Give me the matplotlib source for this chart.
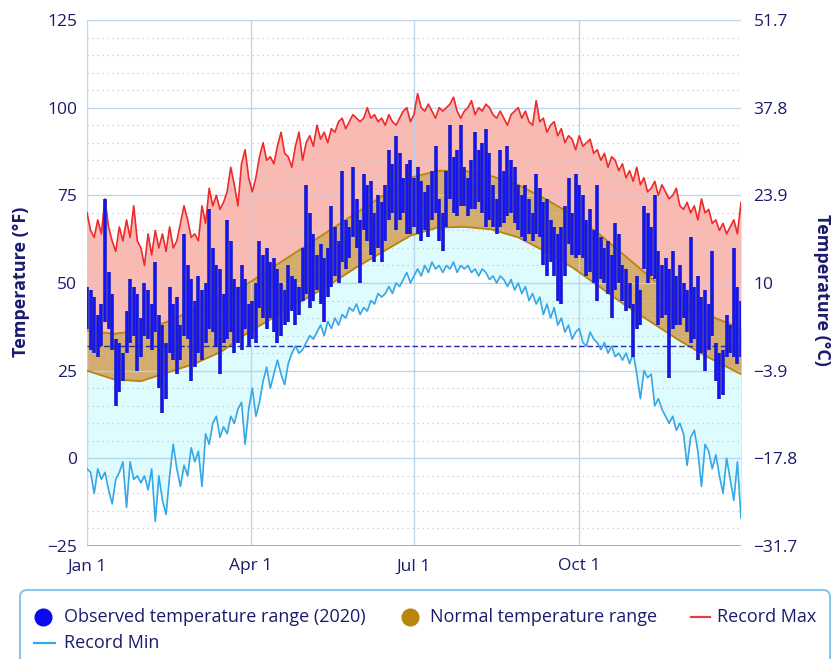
import numpy as np
import matplotlib
matplotlib.use('Agg')
import matplotlib.pyplot as plt
from matplotlib.patches import FancyBboxPatch
from matplotlib.lines import Line2D

plt.rcParams['font.family'] = ['Open Sans', 'DejaVu Sans']

# ---------------- data (°F) ----------------
obs_days = list(range(0, 365, 2))
obs_high = [49, 48, 46, 41, 44, 74, 53, 47, 34, 33,
            30, 42, 51, 49, 47, 40, 50, 48, 44, 56,
            41, 38, 33, 49, 44, 46, 38, 64, 55, 51,
            45, 52, 48, 50, 71, 60, 55, 54, 47, 68,
            62, 51, 49, 55, 51, 44, 45, 50, 62, 58,
            60, 56, 57, 54, 50, 48, 55, 52, 51, 49,
            60, 78, 70, 64, 58, 61, 57, 60, 72, 66,
            62, 82, 68, 66, 83, 74, 68, 81, 78, 79,
            70, 75, 73, 78, 88, 84, 92, 87, 80, 84,
            85, 80, 83, 79, 76, 78, 82, 89, 74, 70,
            82, 95, 86, 88, 95, 83, 80, 85, 93, 88,
            90, 94, 87, 78, 74, 88, 82, 89, 85, 83,
            78, 75, 78, 74, 70, 81, 77, 73, 74, 68,
            66, 64, 66, 72, 80, 70, 81, 78, 75, 68,
            71, 65, 78, 63, 60, 62, 58, 67, 64, 55,
            54, 50, 44, 52, 48, 72, 70, 66, 75, 59,
            55, 57, 54, 59, 52, 55, 50, 48, 63, 49,
            52, 46, 48, 44, 59, 33, 30, 31, 41, 38, 60, 49, 45]
obs_low = [37, 31, 30, 29, 32, 39, 37, 31, 15, 19,
           22, 30, 33, 35, 25, 29, 35, 34, 31, 36,
           20, 13, 17, 30, 28, 24, 28, 35, 34, 22,
           26, 30, 28, 33, 37, 36, 32, 24, 33, 34,
           36, 30, 33, 31, 37, 32, 34, 33, 43, 40,
           37, 40, 36, 33, 35, 38, 39, 42, 38, 41,
           45, 47, 43, 45, 48, 44, 39, 46, 49, 52,
           50, 56, 54, 57, 63, 60, 50, 65, 62, 58,
           56, 60, 56, 62, 68, 70, 65, 68, 70, 64,
           64, 66, 64, 62, 65, 63, 68, 70, 62, 59,
           66, 74, 70, 69, 72, 72, 69, 71, 71, 73,
           70, 66, 68, 66, 64, 66, 67, 69, 70, 67,
           65, 63, 62, 64, 62, 64, 63, 55, 52, 56,
           52, 45, 44, 52, 61, 58, 57, 58, 57, 52,
           53, 50, 45, 51, 50, 47, 40, 48, 50, 45,
           42, 43, 29, 37, 38, 54, 50, 52, 51, 38,
           40, 41, 23, 37, 38, 38, 40, 36, 33, 34,
           28, 30, 25, 31, 35, 22, 17, 18, 29, 30, 29, 27, 29]

rec_days = list(range(0, 365, 2))
rec_max = [70, 65, 63, 68, 64, 74, 66, 62, 59, 66,
           62, 68, 63, 72, 62, 60, 55, 64, 58, 65,
           60, 64, 59, 66, 60, 62, 67, 72, 68, 63,
           64, 62, 72, 67, 77, 72, 75, 71, 73, 76,
           83, 78, 72, 84, 88, 80, 76, 80, 86, 90,
           85, 86, 84, 89, 93, 87, 86, 83, 89, 93,
           85, 90, 92, 89, 95, 91, 93, 90, 94, 93,
           96, 97, 94, 96, 98, 97, 96, 97, 100, 97,
           98, 96, 97, 95, 98, 96, 95, 97, 99, 100,
           96, 98, 104, 100, 99, 101, 99, 97, 100, 99,
           100, 101, 103, 99, 97, 99, 100, 102, 98, 100,
           99, 101, 100, 98, 97, 99, 97, 95, 98, 99,
           100, 97, 99, 96, 95, 102, 96, 97, 93, 95,
           96, 92, 94, 90, 92, 91, 88, 92, 89, 90,
           91, 87, 88, 85, 87, 83, 86, 85, 82, 84,
           80, 82, 79, 83, 78, 80, 76, 77, 79, 75,
           78, 76, 74, 75, 77, 72, 71, 73, 70, 72,
           68, 74, 70, 71, 67, 68, 65, 67, 64, 66, 68, 64, 73]
rec_min = [-3, -4, -10, -3, -6, -4, -9, -13, -6, -4,
           -1, -14, -1, -6, -5, -7, -5, -9, -3, -18,
           -5, -12, -16, -5, 4, -3, -8, -2, -5, 3,
           -1, 2, -8, 7, 4, 10, 12, 6, 9, 7,
           12, 10, 14, 16, 4, 14, 20, 12, 16, 22,
           26, 20, 24, 28, 24, 21, 27, 30, 32, 30,
           31, 33, 35, 34, 36, 38, 35, 39, 37, 40,
           38, 41, 40, 43, 42, 44, 41, 43, 42, 45,
           44, 47, 46, 47, 49, 47, 50, 49, 51, 53,
           50, 52, 54, 52, 55, 53, 56, 54, 55, 53,
           55, 54, 56, 53, 55, 54, 55, 53, 54, 52,
           54, 53, 51, 52, 50, 52, 51, 49, 51, 48,
           50, 47, 49, 45, 47, 44, 46, 41, 44, 40,
           43, 38, 40, 36, 38, 34, 36, 37, 33, 32,
           36, 34, 33, 31, 33, 30, 32, 29, 30, 28,
           30, 27, 30, 24, 17, 25, 23, 24, 15, 17,
           14, 12, 10, 12, 8, 10, 7, -2, 6, 8,
           2, -8, 4, 2, -3, 1, -5, -10, 0, -6, -12, -1, -17]

norm_days = [0, 15, 30, 45, 60, 75, 90, 105, 120, 135, 150, 165, 180,
             195, 210, 225, 240, 255, 270, 285, 300, 315, 330, 345, 364]
norm_high = [36.5, 35.5, 36.5, 39, 42.5, 46, 50, 55, 60, 65, 70, 75, 80,
             82, 82, 80.5, 78, 74, 69.5, 64, 57.5, 51, 45.5, 41, 37]
norm_low = [25, 22.5, 22, 24.5, 27, 30.5, 36, 40.5, 45, 49.5, 54.5, 59, 63.5,
            65.8, 66, 65.3, 63, 59, 54.5, 49, 43.5, 38.5, 33.5, 29, 24]

freezing = 32
month_ticks = [0, 91, 182, 274]
month_labels = ['Jan 1', 'Apr 1', 'Jul 1', 'Oct 1']
f_ticks = [-25, 0, 25, 50, 75, 100, 125]
c_labels = ['\u221231.7', '\u221217.8', '\u22123.9', '10', '23.9', '37.8', '51.7']

# ---------------- figure ----------------
navy = '#1b1b6e'
W, H = 831, 659
fig = plt.figure(figsize=(W / 100, H / 100), dpi=100)
ax = fig.add_axes([87 / W, 1 - 546 / H, (741 - 87) / W, (546 - 20) / H])
ax.set_xlim(0, 364)
ax.set_ylim(-25, 125)

# fills
ax.fill_between(rec_days, rec_min, rec_max, color='#f9bab4', lw=0, zorder=1)
ax.fill(np.concatenate([norm_days, rec_days[::-1]]),
        np.concatenate([norm_low, rec_min[::-1]]),
        color='#defbfd', lw=0, zorder=1.1)
ax.fill_between(norm_days, norm_low, norm_high, color='#d4ac6e', lw=0, zorder=1.2)

# grid
for v in range(-25, 126, 5):
    if v % 25 == 0:
        continue
    ax.axhline(v, color='#c8c8c8', lw=0.9, ls=(0, (1, 3)), zorder=2)
for v in f_ticks[1:]:
    ax.axhline(v, color='#b5d3ec', lw=1.0, zorder=2.1, alpha=0.9)
for d in month_ticks:
    ax.axvline(d, color='#b5d3ec', lw=1.0, zorder=2.1, alpha=0.9)
ax.axhline(-25, color='#6db3df', lw=2.0, zorder=2.2)

# normal band edges
ax.plot(norm_days, norm_high, color='#b8860b', lw=1.3, zorder=3)
ax.plot(norm_days, norm_low, color='#b8860b', lw=1.3, zorder=3)

# freezing line
ax.axhline(freezing, color='#2828a0', lw=1.0, ls=(0, (4, 2)), zorder=3.5)

# record lines
ax.plot(rec_days, rec_max, color='#ee2a2a', lw=1.2, zorder=4)
ax.plot(rec_days, rec_min, color='#35a8e8', lw=1.2, zorder=4)

# observed bars
ax.vlines(obs_days, obs_low, obs_high, colors='#2b2bb8', lw=2.7, zorder=5)
ax.vlines(obs_days, obs_low, obs_high, colors='#1414f4', lw=1.5, zorder=6)

for s in ax.spines.values():
    s.set_visible(False)
ax.set_xticks(month_ticks)
ax.set_xticklabels(month_labels)
ax.set_yticks(f_ticks)
ax.tick_params(axis='both', length=0, labelcolor=navy, labelsize=12.5)
ax.tick_params(axis='y', pad=7)
ax.tick_params(axis='x', pad=9)

ax2 = ax.twinx()
ax2.set_ylim(ax.get_ylim())
ax2.set_yticks(f_ticks)
ax2.set_yticklabels(c_labels)
ax2.tick_params(axis='y', length=0, labelcolor=navy, labelsize=12.5, pad=9)
for s in ax2.spines.values():
    s.set_visible(False)

fig.text(21 / W, 1 - 282 / H, 'Temperature (°F)', rotation=90, ha='center', va='center',
         color=navy, fontsize=13, fontweight='bold')
fig.text(822 / W, 1 - 290 / H, 'Temperature (°C)', rotation=-90, ha='center', va='center',
         color=navy, fontsize=13, fontweight='bold')

# legend (manual)
tr = fig.dpi_scale_trans
box = FancyBboxPatch((0.20, -0.08), 8.10, 0.77, boxstyle='round,pad=0,rounding_size=0.07',
                     transform=tr, facecolor='white', edgecolor='#8cc6ea', lw=1.5, zorder=10)
fig.add_artist(box)
r1 = (H - 617) / 100
r2 = (H - 643) / 100
fs = 13
fig.add_artist(Line2D([0.43], [r1], marker='o', ms=12, color='#0a0af0', transform=tr, zorder=11))
fig.text(0.64, r1, 'Observed temperature range (2020)', transform=tr, va='center', ha='left',
         color=navy, fontsize=fs, zorder=11)
fig.add_artist(Line2D([4.10], [r1], marker='o', ms=12, color='#b8860b', transform=tr, zorder=11))
fig.text(4.30, r1, 'Normal temperature range', transform=tr, va='center', ha='left',
         color=navy, fontsize=fs, zorder=11)
fig.add_artist(Line2D([6.91, 7.10], [r1, r1], lw=1.6, color='#e04040', transform=tr, zorder=11))
fig.text(7.17, r1, 'Record Max', transform=tr, va='center', ha='left',
         color=navy, fontsize=fs, zorder=11)
fig.add_artist(Line2D([0.34, 0.55], [r2, r2], lw=1.6, color='#35a8e8', transform=tr, zorder=11))
fig.text(0.64, r2, 'Record Min', transform=tr, va='center', ha='left',
         color=navy, fontsize=fs, zorder=11)

fig.savefig('out.png', dpi=100)
